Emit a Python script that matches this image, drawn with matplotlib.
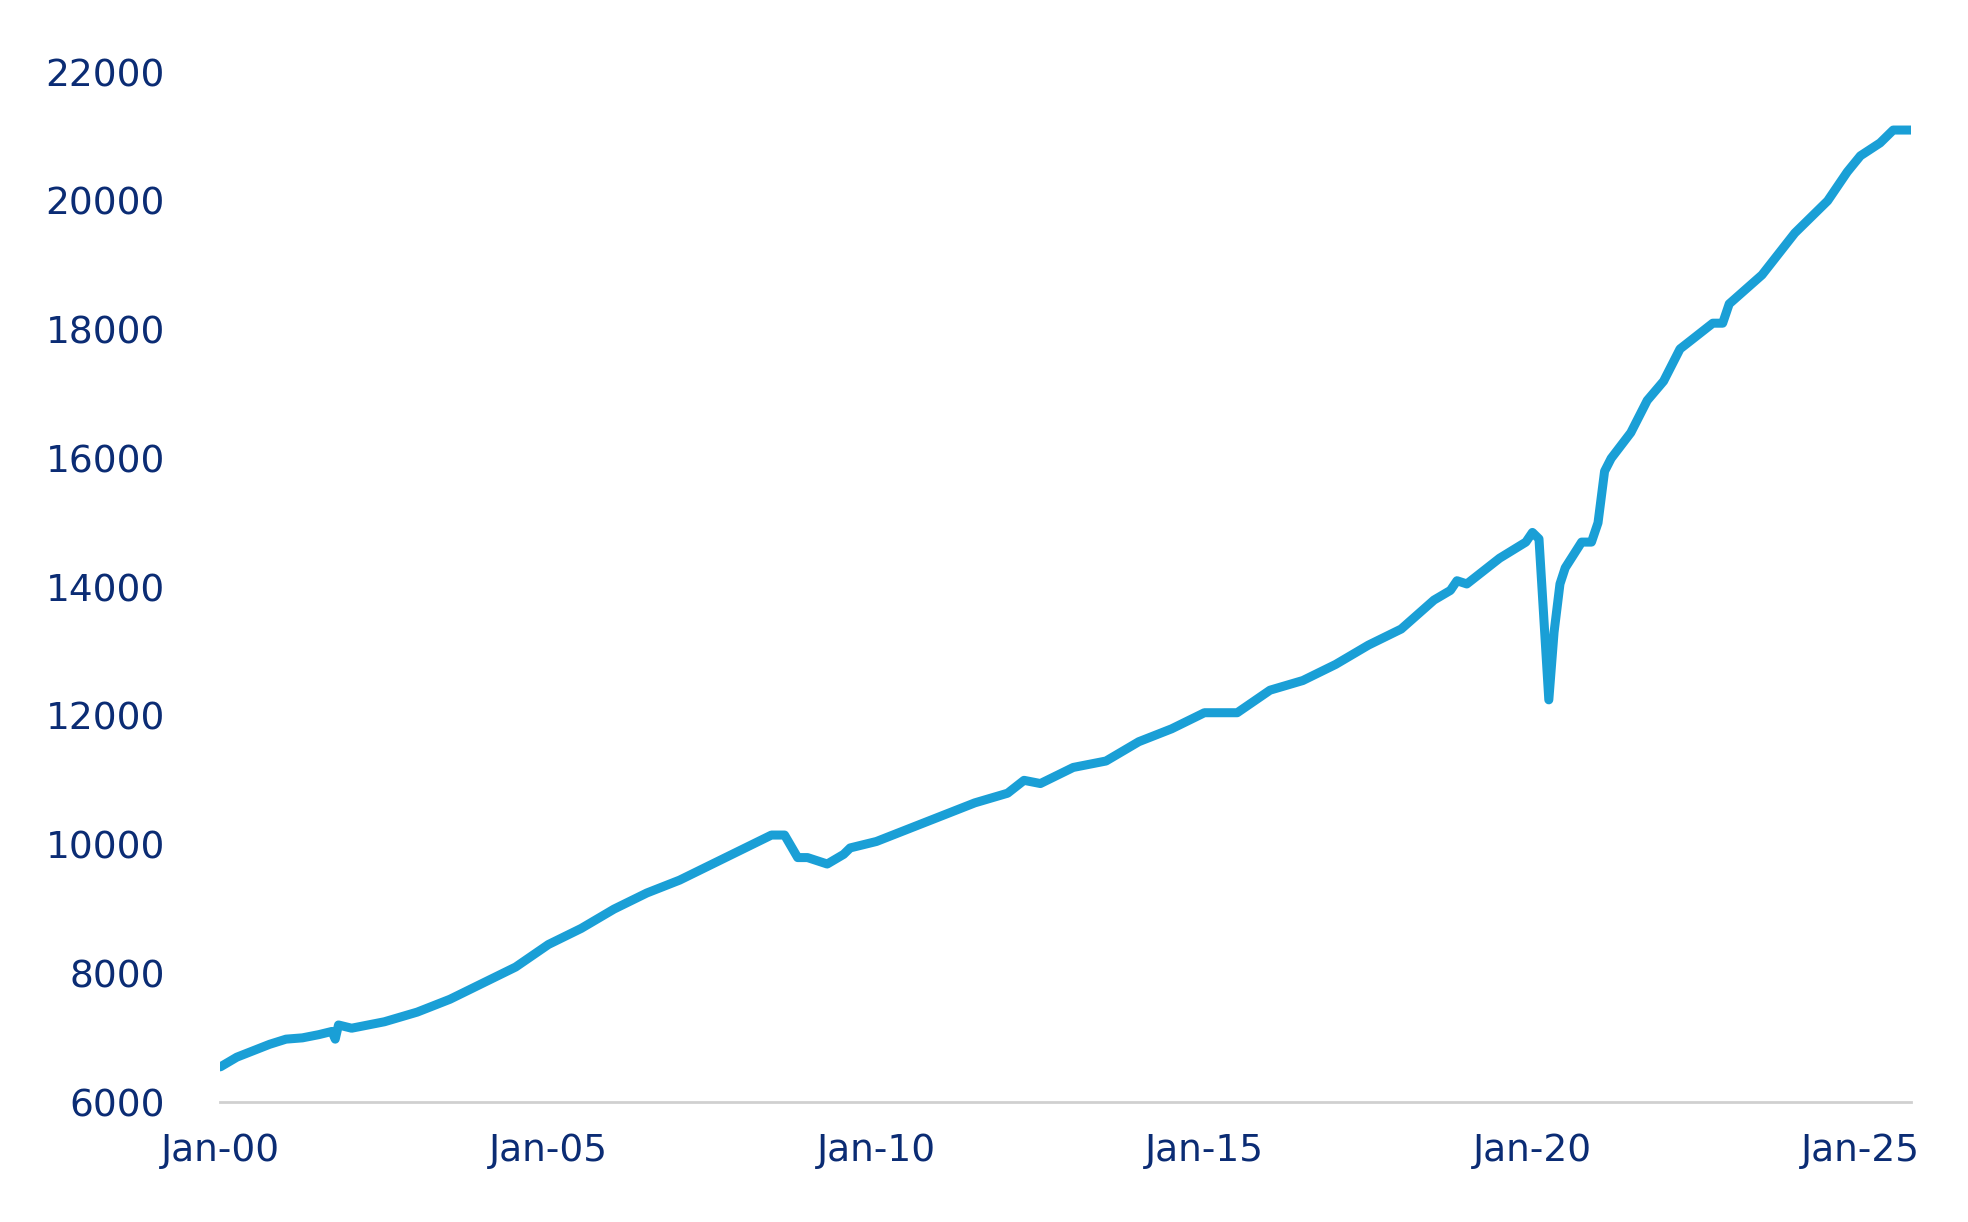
import matplotlib
matplotlib.use("Agg")
import matplotlib.pyplot as plt

# decimal years and values
years = [2000.0, 2000.25, 2000.5, 2000.75, 2001.0, 2001.25, 2001.5, 2001.7, 2001.75, 2001.8,
         2002.0, 2002.5, 2003.0, 2003.5, 2004.0, 2004.5, 2005.0, 2005.5, 2006.0, 2006.5,
         2007.0, 2007.5, 2008.0, 2008.4, 2008.6, 2008.8, 2008.95, 2009.25, 2009.5, 2009.6,
         2010.0, 2010.5, 2011.0, 2011.5, 2012.0, 2012.25, 2012.5, 2013.0, 2013.5, 2014.0,
         2014.5, 2015.0, 2015.5, 2016.0, 2016.5, 2017.0, 2017.5, 2018.0, 2018.5, 2018.75,
         2018.85, 2019.0, 2019.5, 2019.9, 2020.0, 2020.1, 2020.25, 2020.33, 2020.42, 2020.5,
         2020.75, 2020.9, 2021.0, 2021.1, 2021.2, 2021.5, 2021.75, 2022.0, 2022.25, 2022.5,
         2022.75, 2022.9, 2023.0, 2023.5, 2024.0, 2024.5, 2024.8, 2025.0, 2025.3, 2025.5, 2025.77]
values = [6550, 6700, 6800, 6900, 6980, 7000, 7050, 7100, 6980, 7200,
          7150, 7250, 7400, 7600, 7850, 8100, 8450, 8700, 9000, 9250,
          9450, 9700, 9950, 10150, 10150, 9800, 9800, 9700, 9850, 9950,
          10050, 10250, 10450, 10650, 10800, 11000, 10950, 11200, 11300, 11600,
          11800, 12050, 12050, 12400, 12550, 12800, 13100, 13350, 13800, 13950,
          14100, 14050, 14450, 14700, 14850, 14750, 12250, 13300, 14050, 14300,
          14700, 14700, 15000, 15800, 16000, 16400, 16900, 17200, 17700, 17900,
          18100, 18100, 18400, 18850, 19500, 20000, 20450, 20700, 20900, 21100, 21100]

navy = "#0b2c74"
fig = plt.figure(figsize=(19.68, 12.22), dpi=100)
ax = fig.add_axes([0.112, 0.098, 0.859, 0.843])
ax.plot(years, values, color="#1a9fd6", lw=6.5, solid_capstyle="round", solid_joinstyle="round")

ax.set_ylim(6000, 22000)
ax.set_xlim(2000, 2025.77)
ax.set_yticks(range(6000, 22001, 2000))
ax.set_xticks([2000, 2005, 2010, 2015, 2020, 2025])
ax.set_xticklabels(["Jan-00", "Jan-05", "Jan-10", "Jan-15", "Jan-20", "Jan-25"])
ax.tick_params(length=0, labelsize=27, labelcolor=navy, pad=22)
ax.tick_params(axis="y", pad=40)
for s in ["top", "right", "left"]:
    ax.spines[s].set_visible(False)
ax.spines["bottom"].set_color("#d0d0d0")
ax.spines["bottom"].set_linewidth(2)

fig.savefig("out.png")
